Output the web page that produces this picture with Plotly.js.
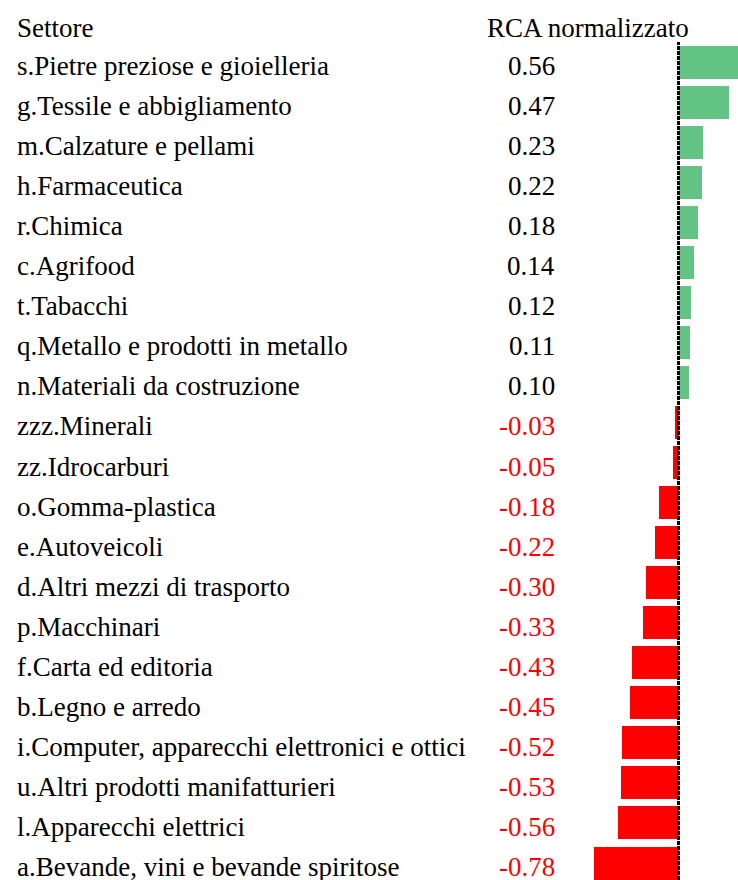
<!DOCTYPE html>
<html>
<head>
<meta charset="utf-8">
<script src="https://cdn.plot.ly/plotly-3.0.1.min.js"></script>
<style>html,body{margin:0;padding:0;background:#fff;}#chart{width:738px;height:880px;}</style>
</head>
<body>
<div id="chart"></div>
<script>
const headerSector = "Settore";
const headerValue = "RCA normalizzato";
const categories = [
  "s.Pietre preziose e gioielleria",
  "g.Tessile e abbigliamento",
  "m.Calzature e pellami",
  "h.Farmaceutica",
  "r.Chimica",
  "c.Agrifood",
  "t.Tabacchi",
  "q.Metallo e prodotti in metallo",
  "n.Materiali da costruzione",
  "zzz.Minerali",
  "zz.Idrocarburi",
  "o.Gomma-plastica",
  "e.Autoveicoli",
  "d.Altri mezzi di trasporto",
  "p.Macchinari",
  "f.Carta ed editoria",
  "b.Legno e arredo",
  "i.Computer, apparecchi elettronici e ottici",
  "u.Altri prodotti manifatturieri",
  "l.Apparecchi elettrici",
  "a.Bevande, vini e bevande spiritose"
];
const values = [0.56, 0.47, 0.23, 0.22, 0.18, 0.14, 0.12, 0.11, 0.10, -0.03, -0.05, -0.18, -0.22, -0.30, -0.33, -0.43, -0.45, -0.52, -0.53, -0.56, -0.78];

const W = 738, H = 880;
const zeroPx = 678.5, pxPerUnit = 108;
const positions = categories.map((_, i) => i);
const GREEN = "#63C384", RED = "#FF0000";
const FONT = "Liberation Serif, Times New Roman, serif";

const trace = {
  type: "bar",
  orientation: "h",
  x: values,
  y: positions,
  width: 0.824,
  marker: {color: values.map(v => v >= 0 ? GREEN : RED), line: {width: 0}},
  hoverinfo: "skip"
};

const annotations = [];
categories.forEach((c, i) => {
  annotations.push({xref: "paper", yref: "y", x: 15 / W, y: i, text: c, showarrow: false,
    xanchor: "left", yanchor: "middle", yshift: -4, font: {family: FONT, size: 27, color: "#000"}});
  annotations.push({xref: "paper", yref: "y", x: 557 / W, y: i, text: values[i].toFixed(2), showarrow: false,
    xanchor: "right", yanchor: "middle", yshift: -4, font: {family: FONT, size: 27, color: values[i] < 0 ? RED : "#000"}});
});
annotations.push({xref: "paper", yref: "paper", x: 15 / W, y: 1 + 17 / 838, text: headerSector, showarrow: false,
  xanchor: "left", yanchor: "middle", yshift: -3, font: {family: FONT, size: 27, color: "#000"}});
annotations.push({xref: "paper", yref: "paper", x: 485 / W, y: 1 + 17 / 838, text: headerValue, showarrow: false,
  xanchor: "left", yanchor: "middle", yshift: -3, font: {family: FONT, size: 27, color: "#000"}});

const layout = {
  width: W, height: H,
  margin: {l: 0, r: 0, t: 42, b: 0, pad: 0},
  paper_bgcolor: "#fff", plot_bgcolor: "#fff",
  showlegend: false,
  bargap: 0,
  xaxis: {range: [-zeroPx / pxPerUnit, (W - zeroPx) / pxPerUnit], showgrid: false, zeroline: false,
    showticklabels: false, ticks: "", showline: false, fixedrange: true},
  yaxis: {range: [-0.5 + 838 / 40.05, -0.5], showgrid: false, zeroline: false,
    showticklabels: false, ticks: "", showline: false, fixedrange: true},
  shapes: [{type: "line", xref: "x", yref: "paper", x0: 0, x1: 0, y0: 0, y1: 1,
    line: {color: "#000", width: 3, dash: "4px,1px"}}],
  annotations: annotations
};

Plotly.newPlot("chart", [trace], layout, {displayModeBar: false, staticPlot: true});
</script>
</body>
</html>
